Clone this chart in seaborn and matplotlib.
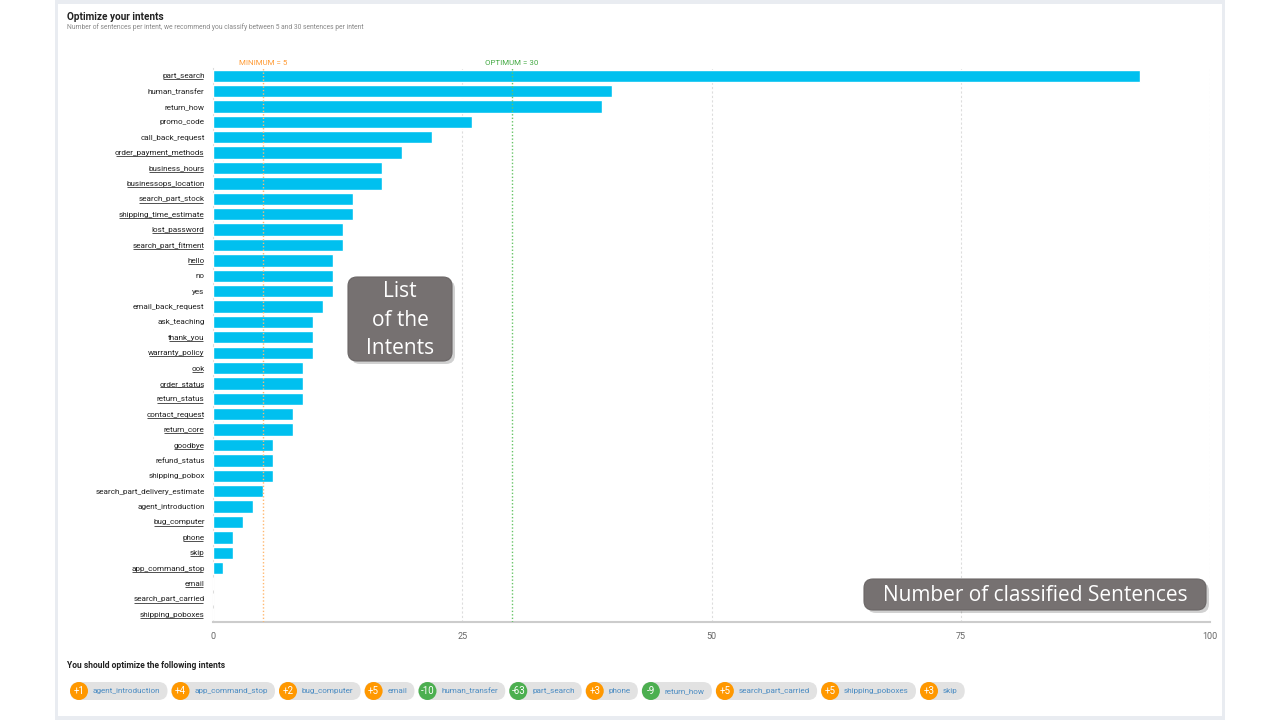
import matplotlib
matplotlib.use("Agg")
import matplotlib.pyplot as plt
import seaborn as sns
import pandas as pd
from matplotlib.patches import FancyBboxPatch, Circle, Rectangle

intents = ["part_search", "human_transfer", "return_how", "promo_code", "call_back_request",
           "order_payment_methods", "business_hours", "businessops_location", "search_part_stock",
           "shipping_time_estimate", "lost_password", "search_part_fitment", "hello", "no", "yes",
           "email_back_request", "ask_teaching", "thank_you", "warranty_policy", "ook",
           "order_status", "return_status", "contact_request", "return_core", "goodbye",
           "refund_status", "shipping_pobox", "search_part_delivery_estimate", "agent_introduction",
           "bug_computer", "phone", "skip", "app_command_stop", "email", "search_part_carried",
           "shipping_poboxes"]
sentences = [93, 40, 39, 26, 22, 19, 17, 17, 14, 14, 13, 13, 12, 12, 12, 11, 10, 10, 10, 9,
             9, 9, 8, 8, 6, 6, 6, 5, 4, 3, 2, 2, 1, 0, 0, 0]
underlined = ["part_search", "order_payment_methods", "business_hours", "businessops_location",
              "search_part_stock", "shipping_time_estimate", "lost_password", "search_part_fitment",
              "hello", "thank_you", "warranty_policy", "ook", "order_status", "return_status",
              "contact_request", "return_core", "goodbye", "bug_computer", "phone", "skip",
              "app_command_stop", "email", "search_part_carried", "shipping_poboxes"]
minimum = 5
optimum = 30
x_ticks = [0, 25, 50, 75, 100]

chip_deltas = ["+1", "+4", "+2", "+5", "-10", "-63", "+3", "-9", "+5", "+5", "+3"]
chip_names = ["agent_introduction", "app_command_stop", "bug_computer", "email", "human_transfer",
              "part_search", "phone", "return_how", "search_part_carried", "shipping_poboxes", "skip"]

sns.set_style("white")
plt.rcParams["font.family"] = ["Roboto", "DejaVu Sans"]

W, H = 1280, 720
fig = plt.figure(figsize=(12.8, 7.2), dpi=100)
fig.patch.set_facecolor("white")

# card frame
fig.patches.append(Rectangle((55 / W, 0), (1225 - 55) / W, 1, transform=fig.transFigure,
                             facecolor="#e9ecf1", edgecolor="none", zorder=-10))
fig.patches.append(Rectangle((58 / W, 4 / H), (1222 - 58) / W, (716 - 4) / H, transform=fig.transFigure,
                             facecolor="white", edgecolor="none", zorder=-9))

ax = fig.add_axes([213 / W, 1 - 622 / H, (1210 - 213) / W, (622 - 68) / H])
ax.set_facecolor("none")
df = pd.DataFrame({"intent": intents, "sentences": sentences})
sns.barplot(data=df, y="intent", x="sentences", orient="h", color="#00c0ef",
            saturation=1, width=0.8, ax=ax, zorder=3)
ax.set_xlim(0, 100)
ax.set_ylim(len(intents) - 0.5, -0.5)
ax.set_xticks(x_ticks)
ax.set_xticklabels([str(t) for t in x_ticks], fontsize=6.5, color="#666666")
ax.set_xlabel("")
ax.set_ylabel("")
ax.tick_params(axis="y", labelsize=5.9, labelcolor="#222222", length=3, color="#aaaaaa", width=0.8, pad=3)
ax.tick_params(axis="x", length=3, color="#cccccc", width=0.8, pad=4)
for t in x_ticks[1:]:
    ax.axvline(t, color="#dddddd", lw=0.8, ls=(0, (2, 2)), zorder=1)
for s in ["top", "right"]:
    ax.spines[s].set_visible(False)
ax.spines["bottom"].set_color("#cccccc")
ax.spines["bottom"].set_linewidth(1.5)
ax.spines["left"].set_color("#dddddd")
ax.spines["left"].set_linewidth(0.8)

ax.axvline(minimum, color="#ffb870", lw=1, ls=(0, (1, 1.5)), zorder=4)
ax.axvline(optimum, color="#66c466", lw=1, ls=(0, (1, 1.5)), zorder=4)
ax.text(minimum, 1.003, f"MINIMUM = {minimum}", transform=ax.get_xaxis_transform(),
        ha="center", va="bottom", fontsize=5.7, color="#ff9a33")
ax.text(optimum, 1.003, f"OPTIMUM = {optimum}", transform=ax.get_xaxis_transform(),
        ha="center", va="bottom", fontsize=5.7, color="#44aa44")

# title
fig.text(67 / W, 1 - 17 / H, "Optimize your intents", fontsize=7.2, fontweight="bold",
         color="#222222", va="center", ha="left")
fig.text(67 / W, 1 - 27 / H,
         "Number of sentences per intent, we recommend you classify between 5 and 30 sentences per intent",
         fontsize=4.9, color="#888888", va="center", ha="left")
fig.text(67 / W, 1 - 665 / H, "You should optimize the following intents", fontsize=6.15,
         fontweight="bold", color="#222222", va="center", ha="left")

# overlay axes in pixel coordinates
ov = fig.add_axes([0, 0, 1, 1], zorder=10)
ov.set_xlim(0, W)
ov.set_ylim(H, 0)
ov.axis("off")
ov.set_facecolor("none")


def callout(x0, y0, x1, y1, text, size, ls):
    sh = FancyBboxPatch((x0 + 3, y0 + 3), x1 - x0, y1 - y0,
                        boxstyle="round,pad=0,rounding_size=9", facecolor="#000000",
                        alpha=0.18, edgecolor="none", zorder=20)
    ov.add_patch(sh)
    bx = FancyBboxPatch((x0, y0), x1 - x0, y1 - y0,
                        boxstyle="round,pad=0,rounding_size=9", facecolor="#767171",
                        edgecolor="#6a6666", lw=0.8, zorder=21)
    ov.add_patch(bx)
    ov.text((x0 + x1) / 2, (y0 + y1) / 2 + 1, text, ha="center", va="center",
            fontsize=size, color="white", family=["Open Sans", "DejaVu Sans"],
            linespacing=ls, zorder=22)


callout(348, 277, 452, 361, "List\nof the\nIntents", 15, 1.45)
callout(864, 579, 1206, 610, "Number of classified Sentences", 15, 1.2)

fig.canvas.draw()
renderer = fig.canvas.get_renderer()

# underline selected tick labels
for lab in ax.get_yticklabels():
    if lab.get_text() in underlined:
        bb = lab.get_window_extent(renderer)
        yy = H - bb.y0 + 0.2
        ov.plot([bb.x0 + 0.5, bb.x1 - 1.5], [yy, yy], color="#333333", lw=0.6,
                solid_capstyle="butt", zorder=5)

# chips
x = 70.0
cy = 691
ch = 18.0
for d, n in zip(chip_deltas, chip_names):
    tmp = ov.text(0, 0, n, fontsize=5.9)
    tw = tmp.get_window_extent(renderer).width
    tmp.remove()
    cw = ch + 5 + tw + 7
    pill = FancyBboxPatch((x, cy - ch / 2), cw, ch,
                          boxstyle="round,pad=0,rounding_size=9", facecolor="#e2e2e2",
                          edgecolor="none", zorder=5)
    ov.add_patch(pill)
    col = "#4caf50" if d.startswith("-") else "#ff9800"
    ov.add_patch(Circle((x + ch / 2, cy), ch / 2, facecolor=col, edgecolor="none", zorder=6))
    ov.text(x + ch / 2, cy, d, ha="center", va="center", fontsize=7, color="white", zorder=7)
    ov.text(x + ch + 5, cy, n, ha="left", va="center", fontsize=5.9, color="#4a8bc2", zorder=7)
    x += cw + 4

fig.savefig("out.png", dpi=100)
